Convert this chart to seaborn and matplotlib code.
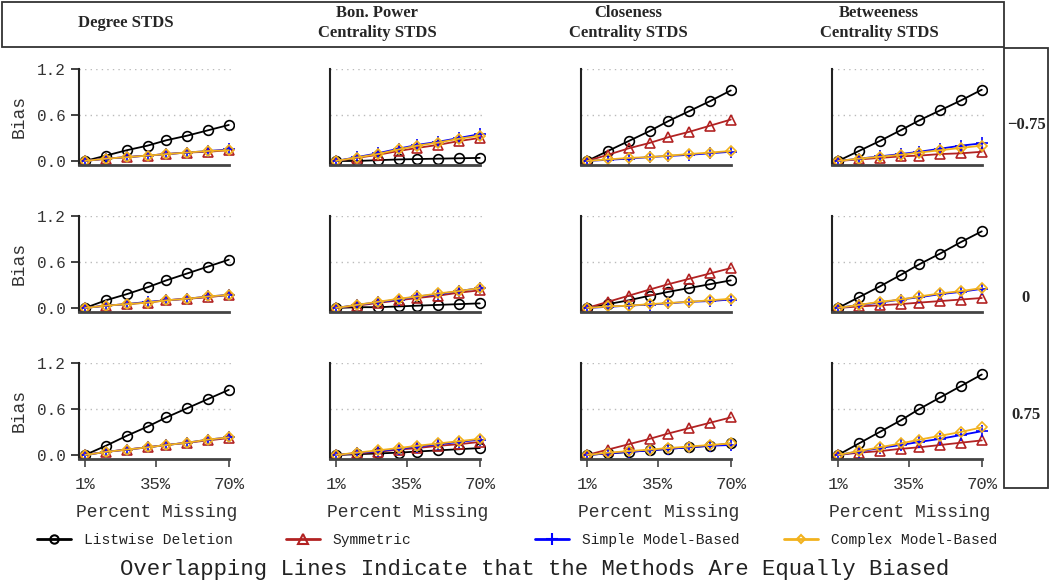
import numpy as np
import pandas as pd
import seaborn as sns
import matplotlib.pyplot as plt
from matplotlib.patches import Rectangle
from matplotlib.lines import Line2D

# ---- data ----
pct = [1, 11, 21, 31, 40, 50, 60, 70]
col_titles = ["Degree STDS", "Bon. Power\nCentrality STDS",
              "Closeness\nCentrality STDS", "Betweeness\nCentrality STDS"]
row_labels = ["\u22120.75", "0", "0.75"]
methods = ["Listwise Deletion", "Symmetric", "Simple Model-Based", "Complex Model-Based"]

# one list per panel, rows top to bottom, columns left to right
listwise = [
    [0, 0.07, 0.14, 0.20, 0.27, 0.33, 0.40, 0.47],
    [0, 0.00, 0.01, 0.02, 0.025, 0.03, 0.035, 0.04],
    [0, 0.13, 0.26, 0.39, 0.52, 0.65, 0.78, 0.92],
    [0, 0.13, 0.26, 0.40, 0.53, 0.66, 0.79, 0.93],
    [0, 0.10, 0.18, 0.27, 0.36, 0.45, 0.54, 0.63],
    [0, 0.01, 0.01, 0.02, 0.03, 0.04, 0.05, 0.06],
    [0, 0.05, 0.10, 0.16, 0.21, 0.26, 0.31, 0.36],
    [0, 0.14, 0.28, 0.43, 0.57, 0.71, 0.86, 1.00],
    [0, 0.12, 0.25, 0.37, 0.49, 0.61, 0.73, 0.85],
    [0, 0.01, 0.02, 0.03, 0.045, 0.06, 0.075, 0.09],
    [0, 0.02, 0.04, 0.06, 0.08, 0.10, 0.12, 0.15],
    [0, 0.15, 0.30, 0.45, 0.60, 0.75, 0.90, 1.05],
]
symmetric = [
    [0, 0.03, 0.05, 0.07, 0.09, 0.11, 0.12, 0.14],
    [0, 0.04, 0.08, 0.13, 0.17, 0.21, 0.26, 0.30],
    [0, 0.08, 0.165, 0.235, 0.31, 0.38, 0.46, 0.54],
    [0, 0.02, 0.04, 0.06, 0.07, 0.09, 0.10, 0.12],
    [0, 0.03, 0.05, 0.07, 0.10, 0.12, 0.14, 0.17],
    [0, 0.03, 0.065, 0.10, 0.13, 0.16, 0.20, 0.23],
    [0, 0.08, 0.16, 0.24, 0.31, 0.38, 0.45, 0.52],
    [0, 0.02, 0.035, 0.05, 0.07, 0.09, 0.11, 0.13],
    [0, 0.04, 0.07, 0.10, 0.13, 0.16, 0.19, 0.22],
    [0, 0.02, 0.04, 0.07, 0.09, 0.12, 0.14, 0.17],
    [0, 0.07, 0.14, 0.21, 0.28, 0.35, 0.42, 0.49],
    [0, 0.03, 0.05, 0.08, 0.10, 0.13, 0.16, 0.19],
]
simple_mb = [
    [0, 0.03, 0.05, 0.07, 0.09, 0.11, 0.13, 0.15],
    [0, 0.05, 0.10, 0.16, 0.21, 0.25, 0.30, 0.35],
    [0, 0.015, 0.03, 0.05, 0.065, 0.08, 0.10, 0.12],
    [0, 0.03, 0.06, 0.09, 0.12, 0.16, 0.20, 0.23],
    [0, 0.03, 0.05, 0.08, 0.10, 0.12, 0.15, 0.17],
    [0, 0.04, 0.075, 0.11, 0.15, 0.18, 0.22, 0.26],
    [0, 0.015, 0.03, 0.045, 0.06, 0.08, 0.09, 0.11],
    [0, 0.04, 0.07, 0.11, 0.14, 0.18, 0.21, 0.25],
    [0, 0.04, 0.07, 0.10, 0.13, 0.16, 0.20, 0.23],
    [0, 0.025, 0.05, 0.08, 0.11, 0.14, 0.17, 0.20],
    [0, 0.02, 0.04, 0.06, 0.08, 0.10, 0.12, 0.13],
    [0, 0.045, 0.09, 0.13, 0.17, 0.21, 0.26, 0.31],
]
complex_mb = [
    [0, 0.03, 0.05, 0.07, 0.09, 0.11, 0.13, 0.14],
    [0, 0.045, 0.09, 0.15, 0.20, 0.24, 0.29, 0.33],
    [0, 0.02, 0.04, 0.05, 0.07, 0.09, 0.11, 0.13],
    [0, 0.03, 0.055, 0.08, 0.11, 0.14, 0.17, 0.20],
    [0, 0.03, 0.05, 0.07, 0.10, 0.12, 0.15, 0.17],
    [0, 0.04, 0.08, 0.12, 0.15, 0.19, 0.22, 0.26],
    [0, 0.02, 0.03, 0.05, 0.065, 0.08, 0.10, 0.12],
    [0, 0.04, 0.08, 0.11, 0.15, 0.19, 0.22, 0.26],
    [0, 0.04, 0.07, 0.10, 0.13, 0.16, 0.20, 0.23],
    [0, 0.03, 0.06, 0.09, 0.12, 0.15, 0.18, 0.21],
    [0, 0.03, 0.05, 0.07, 0.09, 0.11, 0.13, 0.15],
    [0, 0.05, 0.10, 0.15, 0.20, 0.25, 0.30, 0.36],
]

# ---- styles ----
colors = {"Listwise Deletion": "black", "Symmetric": "#B22222",
          "Simple Model-Based": "#0000FF", "Complex Model-Based": "#F2B21E"}
markers = {"Listwise Deletion": "o", "Symmetric": "^",
           "Simple Model-Based": "+", "Complex Model-Based": "D"}
msizes = {"Listwise Deletion": 7, "Symmetric": 7.5,
          "Simple Model-Based": 9, "Complex Model-Based": 5.5}

# long table for plotting
rows = []
for name, panels in zip(methods, [listwise, symmetric, simple_mb, complex_mb]):
    for k, vals in enumerate(panels):
        for p, v in zip(pct, vals):
            rows.append({"method": name, "r": k // 4, "c": k % 4, "pct": p, "bias": v})
df = pd.DataFrame(rows)

sns.set_theme(style="white")
plt.rcParams["font.family"] = ["Liberation Mono", "DejaVu Sans Mono"]
serif = ["Liberation Serif", "DejaVu Serif"]

W, H = 1050, 583
fig = plt.figure(figsize=(W / 100, H / 100), dpi=100)

ax_w, ax_h = 155, 95.8
lefts = [79, 330, 581, 832]
tops = [69, 216, 363]
xlim = (-1.9, 72.5)
ylim = (-0.05, 1.2)

for r in range(3):
    for c in range(4):
        ax = fig.add_axes([lefts[c] / W, 1 - (tops[r] + ax_h) / H, ax_w / W, ax_h / H])
        sub = df[(df.r == r) & (df.c == c)]
        for m in [0.6, 1.2]:
            ax.axhline(m, color="#BBBBBB", lw=1, ls=(0, (1, 3)), zorder=0)
        for name in methods:
            d = sub[sub.method == name]
            sns.lineplot(data=d, x="pct", y="bias", ax=ax, color=colors[name],
                         marker=markers[name], markersize=msizes[name],
                         markerfacecolor="none", markeredgecolor=colors[name],
                         markeredgewidth=1.2, lw=1.3, legend=False)
        ax.set_xlim(*xlim)
        ax.set_ylim(*ylim)
        ax.set_xlabel("")
        ax.set_ylabel("")
        ax.spines["top"].set_visible(False)
        ax.spines["right"].set_visible(False)
        ax.spines["left"].set_color("#222222")
        ax.spines["left"].set_linewidth(1.5)
        ax.spines["bottom"].set_color("#444444")
        ax.spines["bottom"].set_linewidth(2)
        ax.spines["bottom"].set_bounds(xlim[0], 70)
        ax.set_xticks([1, 35, 70])
        ax.set_yticks([0.0, 0.6, 1.2])
        if c == 0:
            ax.set_yticklabels(["0.0", "0.6", "1.2"])
            ax.tick_params(axis="y", left=True, length=5.5, width=1.2,
                           color="#222222", labelsize=11.5, pad=4, labelcolor="#333333")
            ax.set_ylabel("Bias", fontsize=13, color="#333333", labelpad=7)
        else:
            ax.set_yticklabels([])
            ax.tick_params(axis="y", left=False)
        if r == 2:
            ax.set_xticklabels(["1%", "35%", "70%"])
            ax.tick_params(axis="x", bottom=True, length=6, width=1.2,
                           color="#444444", labelsize=12.5, pad=7, labelcolor="#333333")
            ax.set_xlabel("Percent Missing", fontsize=13, color="#333333", labelpad=9)
        else:
            ax.set_xticklabels([])
            ax.tick_params(axis="x", bottom=False)

# header strip and row strip
fig.patches.append(Rectangle((2 / W, 1 - 47 / H), 1002 / W, 45 / H, transform=fig.transFigure,
                             fill=False, edgecolor="#333333", lw=1.3))
fig.patches.append(Rectangle((1004 / W, 1 - 488 / H), 44 / W, 440 / H, transform=fig.transFigure,
                             fill=False, edgecolor="#333333", lw=1.3))
for c, t in enumerate(col_titles):
    fig.text((lefts[c] + 47) / W, 1 - 23 / H, t, ha="center", va="center",
             multialignment="center", family=serif, fontweight="bold", fontsize=12,
             linespacing=1.3)
for y, t in zip([125, 298, 415], row_labels):
    fig.text(1026 / W, 1 - y / H, t, ha="center", va="center", family=serif,
             fontweight="bold", fontsize=12)

# legend, one entry per column
for x0, name in zip([37, 286, 535, 784], methods):
    h = Line2D([], [], color=colors[name], marker=markers[name], markersize=msizes[name] - 1,
               markerfacecolor="none", markeredgecolor=colors[name], markeredgewidth=1.5, lw=2)
    fig.legend([h], [name], loc="center left", bbox_to_anchor=(x0 / W, 1 - 540 / H),
               frameon=False, fontsize=10.5, handlelength=2.3, handletextpad=0.9,
               borderpad=0, borderaxespad=0, labelcolor="#222222")

fig.text(535 / W, 1 - 570 / H, "Overlapping Lines Indicate that the Methods Are Equally Biased",
         ha="center", va="center", fontsize=16, color="#222222")

fig.savefig("out.png", dpi=100)
